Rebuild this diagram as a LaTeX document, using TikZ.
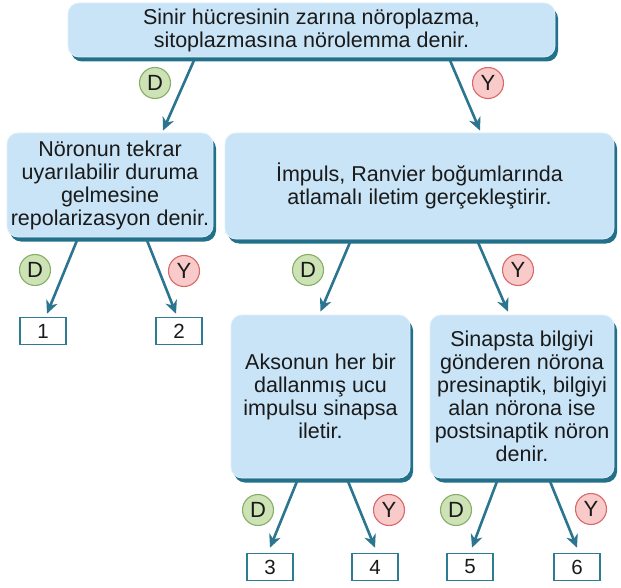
\documentclass[tikz,border=0pt]{standalone}
\usepackage{fontspec}
\setmainfont{Liberation Sans}
\usetikzlibrary{arrows.meta,shadows}
\definecolor{boxfill}{HTML}{C8E4F6}
\definecolor{boxline}{HTML}{DDEFFA}
\definecolor{shadowc}{HTML}{22708A}
\definecolor{arrowc}{HTML}{2B7590}
\definecolor{numline}{HTML}{2E7C93}
\definecolor{dfill}{HTML}{CDE3B5}
\definecolor{dline}{HTML}{86AE68}
\definecolor{yfill}{HTML}{F8CACA}
\definecolor{yline}{HTML}{D96868}
\definecolor{txt}{HTML}{1A1A1A}
\begin{document}
\begin{tikzpicture}[x=1pt,y=-1pt,
  bubble/.style={rectangle, rounded corners=11pt, fill=boxfill, draw=boxline,
    line width=0.8pt, align=center, inner sep=0pt, text=txt,
    font=\fontsize{21.5}{23}\selectfont,
    drop shadow={shadow xshift=3pt, shadow yshift=-4.5pt, fill=shadowc, opacity=1}},
  arr/.style={draw=arrowc, line width=2.6pt, -{Stealth[length=13pt,width=12pt,inset=4pt]}},
  dcirc/.style={circle, minimum size=31pt, inner sep=0pt, fill=dfill, draw=dline,
    line width=1.1pt, text=txt, font=\fontsize{22}{22}\selectfont},
  ycirc/.style={dcirc, fill=yfill, draw=yline},
  numbox/.style={rectangle, minimum width=46pt, minimum height=27pt, draw=numline,
    line width=1.6pt, fill=white, text=txt, inner sep=0pt,
    font=\fontsize{20.5}{20.5}\selectfont}
]
\useasboundingbox (0,0) rectangle (621,588);

% boxes
\node[bubble, minimum width=487pt, minimum height=54pt] (top) at (311.5,30)
  {Sinir hücresinin zarına nöroplazma,\\sitoplazmasına nörolemma denir.};
\node[bubble, minimum width=206pt, minimum height=104pt] (left) at (110,185)
  {Nöronun tekrar\\uyarılabilir duruma\\gelmesine\\repolarizasyon denir.};
\node[bubble, minimum width=389pt, minimum height=106pt] (imp) at (419.5,186)
  {İmpuls, Ranvier boğumlarında\\atlamalı iletim gerçekleştirir.};
\node[bubble, minimum width=179pt, minimum height=163pt] (aks) at (320.5,396.5)
  {Aksonun her bir\\dallanmış ucu\\impulsu sinapsa\\iletir.};
\node[bubble, minimum width=184pt, minimum height=163pt] (sin) at (522,396.5)
  {Sinapsta bilgiyi\\gönderen nörona\\presinaptik, bilgiyi\\alan nörona ise\\postsinaptik nöron\\denir.};

% number boxes
\node[numbox] (n1) at (43,331) {1};
\node[numbox] (n2) at (179,331) {2};
\node[numbox] (n3) at (270,567) {3};
\node[numbox] (n4) at (375,567) {4};
\node[numbox] (n5) at (470,567) {5};
\node[numbox] (n6) at (577,567) {6};

% arrows
\draw[arr] ([xshift=-117.5pt,yshift=-3pt]top.south) -- ([xshift=53pt,yshift=2pt]left.north);
\draw[arr] ([xshift=138.5pt,yshift=-3pt]top.south) -- ([xshift=60.5pt,yshift=2pt]imp.north);
\draw[arr] ([xshift=-33pt,yshift=-3pt]left.south) -- ([xshift=4pt,yshift=3pt]n1.north);
\draw[arr] ([xshift=37pt,yshift=-3pt]left.south) -- ([xshift=-3pt,yshift=3pt]n2.north);
\draw[arr] ([xshift=-69.5pt,yshift=-3pt]imp.south) -- ([xshift=0pt,yshift=3pt]aks.north);
\draw[arr] ([xshift=58.5pt,yshift=-3pt]imp.south) -- ([xshift=-14pt,yshift=3pt]sin.north);
\draw[arr] ([xshift=-23.5pt,yshift=-3pt]aks.south) -- ([xshift=0pt,yshift=5pt]n3.north);
\draw[arr] ([xshift=27.5pt,yshift=-3pt]aks.south) -- ([xshift=0pt,yshift=5pt]n4.north);
\draw[arr] ([xshift=-25pt,yshift=-3pt]sin.south) -- ([xshift=2pt,yshift=5pt]n5.north);
\draw[arr] ([xshift=28pt,yshift=-3pt]sin.south) -- ([xshift=0pt,yshift=5pt]n6.north);

% labels
\node[dcirc] (c1) at (155,83) {D};
\node[ycirc] (c2) at (488,83) {Y};
\node[dcirc] (c3) at (35,270) {D};
\node[ycirc] (c4) at (184,271) {Y};
\node[dcirc] (c5) at (308,270) {D};
\node[ycirc] (c6) at (518,270) {Y};
\node[dcirc] (c7) at (258,510) {D};
\node[ycirc] (c8) at (389,510) {Y};
\node[dcirc] (c9) at (456,510) {D};
\node[ycirc] (c10) at (591,509) {Y};
\end{tikzpicture}
\end{document}
